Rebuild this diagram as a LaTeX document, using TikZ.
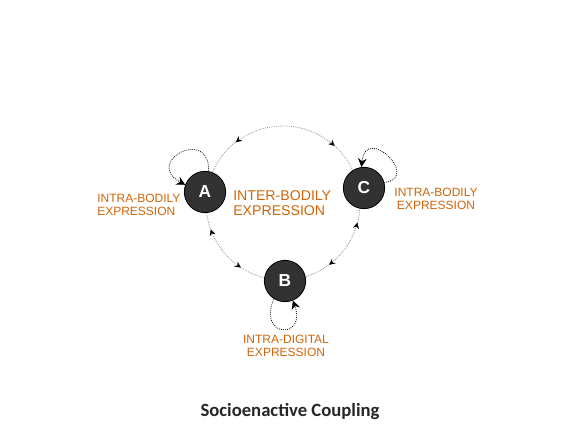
\documentclass[tikz,border=0pt]{standalone}
\usepackage{fontspec}
\setmainfont{Liberation Sans}
\newfontfamily\titlefont{Carlito}
\usetikzlibrary{arrows.meta,decorations.markings}
\definecolor{lbl}{RGB}{204,102,10}
\definecolor{nodefill}{RGB}{50,50,50}
\tikzset{
  agent/.style={circle, draw=black, line width=0.6pt, fill=nodefill, minimum size=31pt, inner sep=0pt,
    text=white, font=\fontsize{13}{13}\selectfont\bfseries},
  smalllbl/.style={text=lbl, font=\fontsize{9}{10}\selectfont, inner sep=0pt},
  biglbl/.style={text=lbl, font=\fontsize{10.6}{11.5}\selectfont, inner sep=0pt},
  ring/.style={draw=gray!90, line width=0.55pt, dash pattern=on 0.6pt off 0.8pt},
  selfloop/.style={draw=black, line width=0.6pt, dash pattern=on 0.6pt off 0.9pt,
    -{Stealth[length=6.5pt,width=6.5pt]}},
  fw/.style={decoration={markings, mark=at position #1 with {\arrow{Stealth[length=4.5pt,width=4.5pt]}}}, postaction={decorate}},
  bw/.style={decoration={markings, mark=at position #1 with {\arrowreversed{Stealth[length=4.5pt,width=4.5pt]}}}, postaction={decorate}},
}
\begin{document}
\begin{tikzpicture}[x=0.75pt,y=0.75pt]
\useasboundingbox (0,0) rectangle (581,448);
% ring (drawn counter-clockwise from angle 0)
\coordinate (ctr) at (283,245);
\path[ring] (360,245) arc[start angle=0,end angle=360,radius=77];
\foreach \p in {0.355,0.658,0.959}{
  \path[fw=\p] (360,245) arc[start angle=0,end angle=360,radius=77];}
\foreach \p in {0.133,0.556,0.852}{
  \path[bw=\p] (360,245) arc[start angle=0,end angle=360,radius=77];}
% nodes
\node[agent] (A) at (205,256) {A};
\node[agent] (C) at (364,260) {C};
\node[agent] (B) at (285,167) {B};
% self loops
\draw[selfloop] (A.80) .. controls (210,322) and (143,286) .. (A.160);
\draw[selfloop] (C.15) .. controls (421,270) and (366,324) .. (C.97);
\draw[selfloop] (B.238) .. controls (257,110) and (307,108) .. (B.292);
% labels
\node[smalllbl, anchor=west, align=left] (la) at (97,243) {INTRA-BODILY\\EXPRESSION};
\node[biglbl, anchor=west, align=left] (lm) at (233,245) {INTER-BODILY\\EXPRESSION};
\node[smalllbl, align=center] (lc) at (436,249) {INTRA-BODILY\\EXPRESSION};
\node[smalllbl, align=center] (lb) at (286,102) {INTRA-DIGITAL\\EXPRESSION};
\node[font=\titlefont\bfseries\fontsize{14}{14}\selectfont, text=black!85] (title) at (290,36) {Socioenactive Coupling};
\end{tikzpicture}
\end{document}
